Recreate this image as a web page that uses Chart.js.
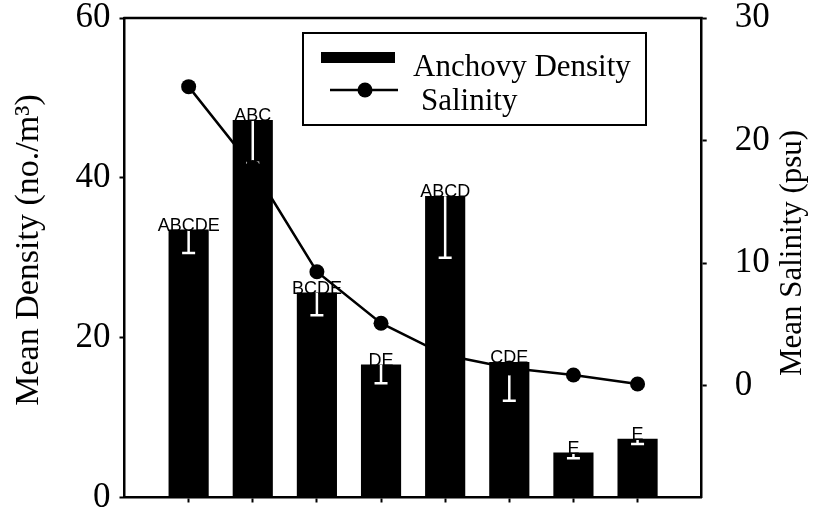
<!DOCTYPE html>
<html>
<head>
<meta charset="utf-8">
<script src="https://cdn.jsdelivr.net/npm/chart.js@4.4.0/dist/chart.umd.min.js"></script>
<style>
  body { margin: 0; background: #fff; }
</style>
</head>
<body>
<canvas id="myChart" width="817" height="512"></canvas>
<script>
// station positions along the x axis (no labels in the figure)
var stations = [1, 2, 3, 4, 5, 6, 7, 8];
var density = [33.5, 47.2, 25.6, 16.6, 37.7, 16.9, 5.6, 7.3];
var densityErr = [2.9, 5.3, 2.8, 2.3, 7.7, 4.8, 0.7, 0.6];
var groups = ["ABCDE", "ABC", "BCDE", "DE", "ABCD", "CDE", "E", "E"];
var salinity = [24.4, 17.8, 9.3, 5.1, 2.5, 1.45, 0.87, 0.14];

var densityTicks = [0, 20, 40, 60];
var salinityTicks = [0, 10, 20, 30];

var serif = "'Liberation Serif', 'Times New Roman', serif";
var sans = "'Liberation Sans', Arial, sans-serif";

// white error bars inside the bars, drawn right after the bars (line goes over them)
var errorBars = {
  id: "errorBars",
  afterDatasetDraw: function (chart, args) {
    if (args.index !== 0) return;
    var ctx = chart.ctx;
    var x = chart.scales.x, y = chart.scales.y;
    ctx.save();
    ctx.strokeStyle = "#fff";
    ctx.lineWidth = 2.5;
    for (var i = 0; i < stations.length; i++) {
      var cx = x.getPixelForValue(stations[i]);
      var top = y.getPixelForValue(density[i]);
      var low = y.getPixelForValue(density[i] - densityErr[i]);
      ctx.beginPath();
      ctx.moveTo(cx, top);
      ctx.lineTo(cx, low);
      ctx.moveTo(cx - 6.5, low);
      ctx.lineTo(cx + 6.5, low);
      ctx.stroke();
    }
    ctx.restore();
  }
};

// group letters, top frame line, axis titles and the boxed legend
var extras = {
  id: "extras",
  afterDraw: function (chart) {
    var ctx = chart.ctx;
    var x = chart.scales.x, y = chart.scales.y;
    var a = chart.chartArea;
    ctx.save();

    ctx.fillStyle = "#000";
    ctx.font = "18px " + sans;
    ctx.textAlign = "center";
    ctx.textBaseline = "alphabetic";
    for (var i = 0; i < stations.length; i++) {
      ctx.fillText(groups[i], x.getPixelForValue(stations[i]), y.getPixelForValue(density[i]) + 1);
    }

    ctx.strokeStyle = "#000";
    ctx.lineWidth = 2.5;
    ctx.beginPath();
    ctx.moveTo(a.left - 1, a.top);
    ctx.lineTo(a.right + 1, a.top);
    ctx.stroke();

    // axis titles, both read bottom to top
    ctx.textBaseline = "middle";
    ctx.save();
    ctx.translate(29, 250);
    ctx.rotate(-Math.PI / 2);
    ctx.font = "34px " + serif;
    ctx.fillText("Mean Density (no./m³)", 0, 0);
    ctx.restore();

    ctx.save();
    ctx.translate(793, 253);
    ctx.rotate(-Math.PI / 2);
    ctx.font = "31px " + serif;
    ctx.fillText("Mean Salinity (psu)", 0, 0);
    ctx.restore();

    // legend
    ctx.textBaseline = "alphabetic";
    ctx.lineWidth = 2;
    ctx.strokeRect(303, 33, 343, 92);
    ctx.fillRect(321, 52, 74, 11);
    ctx.lineWidth = 2.5;
    ctx.beginPath();
    ctx.moveTo(330, 90);
    ctx.lineTo(398, 90);
    ctx.stroke();
    ctx.beginPath();
    ctx.arc(365, 90, 7.5, 0, Math.PI * 2);
    ctx.fill();
    ctx.font = "31px " + serif;
    ctx.textAlign = "left";
    ctx.fillText("Anchovy Density", 413, 76);
    ctx.fillText("Salinity", 421, 110);
    ctx.restore();
  }
};

function noPad(scale) {
  scale.paddingTop = 0;
  scale.paddingBottom = 0;
  scale.paddingLeft = 0;
  scale.paddingRight = 0;
}

new Chart("myChart", {
  type: "bar",
  data: {
    datasets: [{
      type: "bar",
      label: "Anchovy Density",
      data: stations.map(function (s, i) { return {x: s, y: density[i]}; }),
      backgroundColor: "#000",
      barThickness: 39.5,
      yAxisID: "y",
      order: 1
    }, {
      type: "line",
      label: "Salinity",
      data: stations.map(function (s, i) { return {x: s, y: salinity[i]}; }),
      borderColor: "#000",
      borderWidth: 2.5,
      pointRadius: 7.5,
      pointBackgroundColor: "#000",
      pointBorderWidth: 0,
      tension: 0,
      yAxisID: "y2",
      order: 0
    }]
  },
  options: {
    responsive: false,
    animation: false,
    layout: {padding: {top: 18, left: 0, right: 0, bottom: 0}},
    plugins: {
      legend: {display: false},
      tooltip: {enabled: false}
    },
    scales: {
      x: {
        type: "linear",
        position: "bottom",
        min: 0,
        max: 9,
        offset: false,
        grid: {offset: false, drawOnChartArea: false, tickLength: 5, tickColor: "#000", tickWidth: 2},
        border: {color: "#000", width: 2.5},
        ticks: {display: false},
        afterBuildTicks: function (scale) {
          scale.ticks = stations.map(function (s) { return {value: s}; });
        },
        afterFit: function (scale) { scale.height = 14.5; noPad(scale); }
      },
      y: {
        position: "left",
        min: 0,
        max: 60,
        grid: {drawOnChartArea: false, tickLength: 5, tickColor: "#000", tickWidth: 2},
        border: {color: "#000", width: 2.5},
        ticks: {color: "#000", padding: 9, font: {family: serif, size: 35, lineHeight: 0.9}},
        afterBuildTicks: function (scale) {
          scale.ticks = densityTicks.map(function (v) { return {value: v}; });
        },
        afterFit: function (scale) { scale.width = 124.5; noPad(scale); }
      },
      y2: {
        position: "right",
        min: -9.12,
        max: 30,
        grid: {drawOnChartArea: false, tickLength: 5, tickColor: "#000", tickWidth: 2},
        border: {color: "#000", width: 2.5},
        ticks: {color: "#000", padding: 28, font: {family: serif, size: 35, lineHeight: 0.9}},
        afterBuildTicks: function (scale) {
          scale.ticks = salinityTicks.map(function (v) { return {value: v}; });
        },
        afterFit: function (scale) { scale.width = 115.3; noPad(scale); }
      }
    }
  },
  plugins: [errorBars, extras]
});
</script>
</body>
</html>
